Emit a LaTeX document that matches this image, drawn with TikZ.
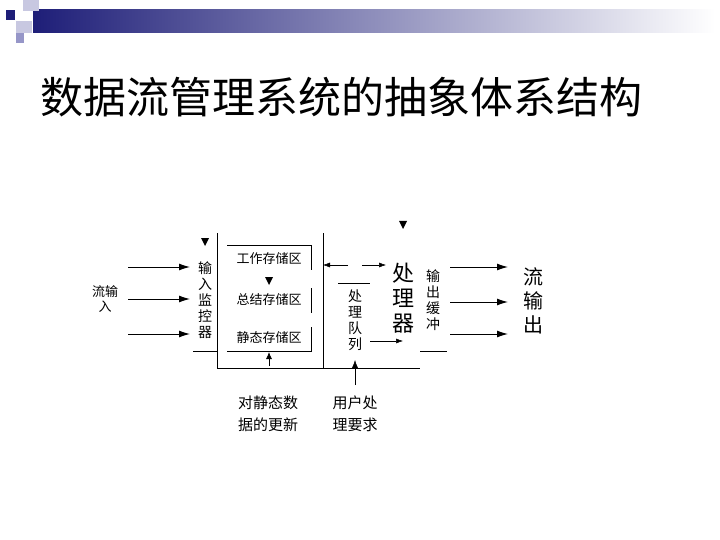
\documentclass[tikz,border=0pt]{standalone}
\usepackage{fontspec}
\setmainfont{Noto Sans CJK SC}
\usetikzlibrary{arrows.meta}
\definecolor{navy}{RGB}{30,30,120}
\definecolor{lav}{RGB}{200,200,225}
\definecolor{lav2}{RGB}{150,150,200}
\begin{document}
\begin{tikzpicture}[x=1pt,y=-1pt,
  ln/.style={line width=0.8pt},
  ar/.style={line width=1pt,-{Latex[length=11pt,width=7pt]}},
  lbl/.style={font=\fontsize{13}{15}\selectfont,align=center,inner sep=0pt},
  vt/.style={font=\fontsize{14}{16}\selectfont,align=center,inner sep=0pt}]
\useasboundingbox (0,0) rectangle (720,540);
% header
\shade[left color=navy,right color=white] (33,10) rectangle (715,33);
\fill[lav] (23,0) rectangle (39,11);
\fill[lav] (16,21) rectangle (32,33);
\fill[lav2] (16,33) rectangle (24,43);
\fill[navy] (6,10) rectangle (15,20);
\node[anchor=west,font=\fontsize{43}{46}\selectfont,inner sep=0pt] (title) at (40,97) {数据流管理系统的抽象体系结构};
% input
\node[lbl] (in) at (105,299) {流输\\入};
\coordinate (a1) at (128,267); \coordinate (b1) at (190,267);
\coordinate (a2) at (128,299); \coordinate (b2) at (190,299);
\coordinate (a3) at (128,334); \coordinate (b3) at (190,334);
\draw[ar] (a1) -- (b1); \draw[ar] (a2) -- (b2); \draw[ar] (a3) -- (b3);
\node[vt] (mon) at (205,300) {输\\入\\监\\控\\器};
\fill (201,238) -- (209,238) -- (205,246) -- cycle;
\draw[ln] (193,351) -- (217,351);
% storage frame
\draw[ln] (217,233) -- (217,368) -- (420,368);
\draw[ln] (323,233) -- (323,368);
\draw[ln] (227,245) -- (311,245) -- (311,270);
\draw[ln] (311,288) -- (311,313);
\draw[ln] (311,327) -- (311,351) -- (227,351);
\node[lbl] (s1) at (269,259) {工作存储区};
\node[lbl] (s2) at (269,300) {总结存储区};
\node[lbl] (s3) at (269,338) {静态存储区};
\fill (265,277) -- (273,277) -- (269,285) -- cycle;
\coordinate (u0) at (269,366); \coordinate (u1) at (269,352);
\draw[ln,-{Latex[length=7pt,width=6pt]}] (u0) -- (u1);
% queue
\draw[ln] (338,283) -- (370,283);
\node[vt] (q) at (355,320) {处\\理\\队\\列};
\coordinate (qa) at (370,341); \coordinate (qb) at (403,341);
\draw[line width=0.5pt,-{Latex[length=7pt,width=5pt]}] (qa) -- (qb);
\coordinate (r0) at (355,385); \coordinate (r1) at (355,360);
\draw[line width=0.5pt,-{Latex[length=8pt,width=6pt]}] (r0) -- (r1);
% top double arrow
\coordinate (t0) at (348,265); \coordinate (t1) at (323,265);
\coordinate (t2) at (362,265); \coordinate (t3) at (386,265);
\draw[line width=0.5pt,-{Latex[length=7pt,width=5pt]}] (t0) -- (t1);
\draw[line width=0.5pt,-{Latex[length=7pt,width=5pt]}] (t2) -- (t3);
\fill (399,221) -- (407,221) -- (403,229) -- cycle;
\node[font=\fontsize{22}{25}\selectfont,align=center,inner sep=0pt] (p) at (403,298) {处\\理\\器};
\node[vt] (ob) at (433,300) {输\\出\\缓\\冲};
\draw[ln] (420,351) -- (447,351);
% output
\coordinate (c1) at (450,267); \coordinate (d1) at (508,267);
\coordinate (c2) at (450,302); \coordinate (d2) at (508,302);
\coordinate (c3) at (450,334); \coordinate (d3) at (508,334);
\draw[ar] (c1) -- (d1); \draw[ar] (c2) -- (d2); \draw[ar] (c3) -- (d3);
\node[font=\fontsize{20}{24}\selectfont,align=center,inner sep=0pt] (out) at (533,301) {流\\输\\出};
% bottom labels
\node[font=\fontsize{15}{22}\selectfont,align=center,inner sep=0pt] (b1l) at (268,414) {对静态数\\据的更新};
\node[font=\fontsize{15}{22}\selectfont,align=center,inner sep=0pt] (b2l) at (355,414) {用户处\\理要求};
\end{tikzpicture}
\end{document}
